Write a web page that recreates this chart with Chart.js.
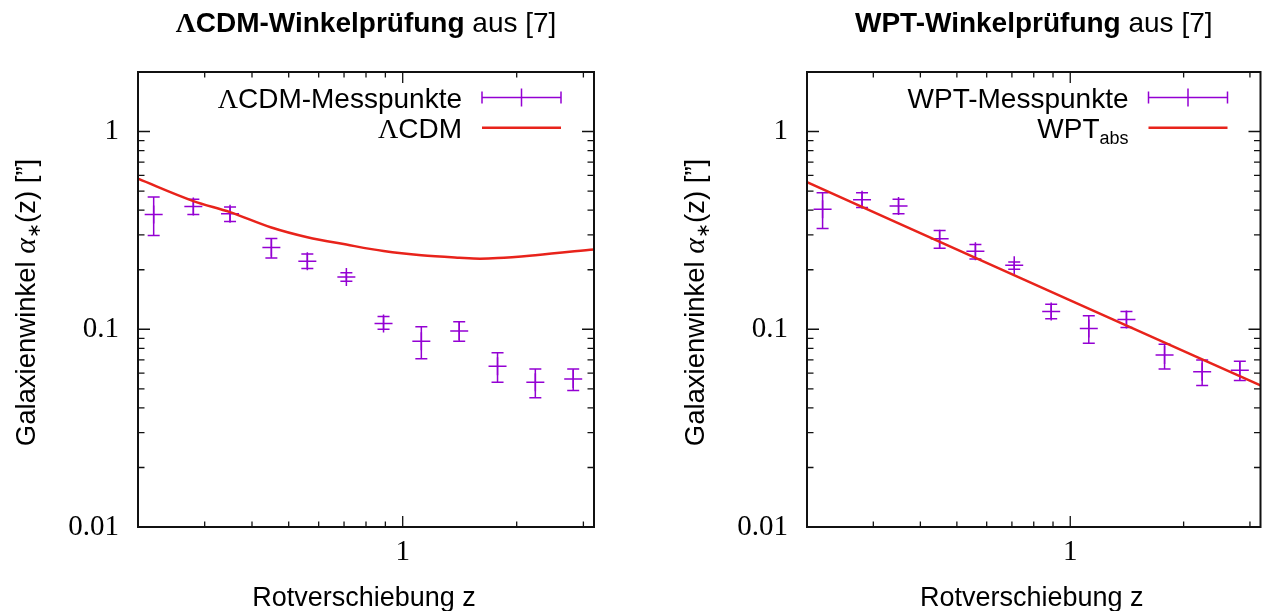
<!DOCTYPE html>
<html><head><meta charset="utf-8">
<script src="https://cdn.jsdelivr.net/npm/chart.js@4.4.0/dist/chart.umd.min.js"></script>
<style>
html,body{margin:0;padding:0;background:#fff;}
#wrap{position:relative;width:1271px;height:611px;overflow:hidden;background:#fff;}
canvas{position:absolute;top:0;}
#c1{left:0;} #c2{left:635px;}
</style></head><body>
<div id="wrap"><canvas id="c1" width="635" height="611"></canvas><canvas id="c2" width="636" height="611"></canvas></div>
<script>
// ---- data ----
const redshift = [0.22, 0.28, 0.35, 0.45, 0.56, 0.71, 0.89, 1.12, 1.41, 1.78, 2.24, 2.82];

const lcdmAngle = [0.380, 0.418, 0.384, 0.259, 0.221, 0.184, 0.107, 0.087, 0.098, 0.065, 0.054, 0.056];
const lcdmUpper = [0.466, 0.455, 0.415, 0.288, 0.240, 0.193, 0.116, 0.103, 0.109, 0.076, 0.063, 0.063];
const lcdmLower = [0.298, 0.381, 0.351, 0.229, 0.203, 0.175, 0.100, 0.071, 0.087, 0.054, 0.045, 0.049];

const wptAngle = [0.405, 0.452, 0.420, 0.287, 0.248, 0.2105, 0.123, 0.101, 0.112, 0.074, 0.061, 0.062];
const wptUpper = [0.490, 0.490, 0.455, 0.316, 0.268, 0.219, 0.134, 0.117, 0.123, 0.084, 0.070, 0.069];
const wptLower = [0.323, 0.413, 0.384, 0.257, 0.2265, 0.201, 0.113, 0.085, 0.102, 0.063, 0.052, 0.055];

const lcdmCurveZ     = [0.2, 0.28, 0.35, 0.45, 0.56, 0.71, 0.89, 1.12, 1.41, 1.6, 1.78, 2.24, 3.2];
const lcdmCurveAngle = [0.577, 0.445, 0.391, 0.327, 0.292, 0.268, 0.2486, 0.2365, 0.230, 0.2276, 0.229, 0.237, 0.2535];

const wptCurveZ     = [0.2, 1, 3.2];
const wptCurveAngle = [0.555, 0.14, 0.052];

const xTickValues = [0.3, 0.4, 0.5, 0.6, 0.7, 0.8, 0.9, 1, 2, 3];
const xMajorTicks = [1];
const xTickLabels = ['1'];
const yTickValues = [0.02,0.03,0.04,0.05,0.06,0.07,0.08,0.09,0.1,0.2,0.3,0.4,0.5,0.6,0.7,0.8,0.9,1];
const yMajorTicks = [0.01, 0.1, 1];
const yTickLabels = ['0.01', '0.1', '1'];

// ---- styling ----
const PURPLE = '#9400d3';
const RED = '#e8231b';
const SANS = 'Liberation Sans, Arial, sans-serif';
const SERIF = 'Liberation Serif, Times New Roman, serif';

function pts(xs, ys){ return xs.map((x,i)=>({x:x, y:ys[i]})); }

function drawRuns(ctx, runs, x, y, align){
  let w = 0;
  runs.forEach(r=>{ ctx.font = r[1]; w += ctx.measureText(r[0]).width; });
  let cx = align === 'center' ? x - w/2 : (align === 'right' ? x - w : x);
  runs.forEach(r=>{ ctx.font = r[1]; ctx.fillText(r[0], cx, y + (r[2]||0)); cx += ctx.measureText(r[0]).width; });
}

function makeDecor(cfg){
  return {
    id: 'decor',
    beforeDatasetsDraw(chart){
      const ctx = chart.ctx, xs = chart.scales.x, ys = chart.scales.y, a = chart.chartArea;
      ctx.save();
      ctx.beginPath(); ctx.rect(a.left, a.top, a.right-a.left, a.bottom-a.top); ctx.clip();
      ctx.strokeStyle = PURPLE; ctx.lineWidth = 1.5;
      redshift.forEach((z,i)=>{
        const px = xs.getPixelForValue(z);
        const t = ys.getPixelForValue(cfg.upper[i]);
        const b = ys.getPixelForValue(cfg.lower[i]);
        ctx.beginPath();
        ctx.moveTo(px, t); ctx.lineTo(px, b);
        ctx.moveTo(px-6, t); ctx.lineTo(px+6, t);
        ctx.moveTo(px-6, b); ctx.lineTo(px+6, b);
        ctx.stroke();
      });
      ctx.restore();
    },
    afterDraw(chart){
      const ctx = chart.ctx, xs = chart.scales.x, ys = chart.scales.y, a = chart.chartArea;
      ctx.save();
      // ticks (inward, mirrored)
      ctx.strokeStyle = '#111'; ctx.lineWidth = 1.3;
      ctx.beginPath();
      xTickValues.forEach(v=>{
        const px = xs.getPixelForValue(v);
        const L = xMajorTicks.includes(v) ? 11 : 5.5;
        ctx.moveTo(px, a.bottom); ctx.lineTo(px, a.bottom - L);
        ctx.moveTo(px, a.top); ctx.lineTo(px, a.top + L);
      });
      yTickValues.forEach(v=>{
        const py = ys.getPixelForValue(v);
        const L = yMajorTicks.includes(v) ? 12 : 6.5;
        ctx.moveTo(a.left, py); ctx.lineTo(a.left + L, py);
        ctx.moveTo(a.right, py); ctx.lineTo(a.right - L, py);
      });
      ctx.stroke();
      // frame
      ctx.lineWidth = 2; ctx.strokeStyle = '#111';
      ctx.strokeRect(a.left, a.top, a.right-a.left, a.bottom-a.top);

      ctx.fillStyle = '#000'; ctx.textBaseline = 'alphabetic'; ctx.textAlign = 'left';
      const cxp = (a.left + a.right)/2;
      // title
      drawRuns(ctx, cfg.title, cxp, 32, 'center');
      // x axis title
      drawRuns(ctx, [['Rotverschiebung z', '27px ' + SANS]], cxp - 2, 606, 'center');
      // y axis title
      ctx.save();
      ctx.translate(a.left - 103, (a.top + a.bottom)/2 + 3);
      ctx.rotate(-Math.PI/2);
      drawRuns(ctx, [
        ['Galaxienwinkel ', '27.5px ' + SANS],
        ['\u03b1', 'italic 30px ' + SERIF],
        ['\u2217', '18px ' + SERIF, 5],
        ['(z) [\u201d]', '27.5px ' + SANS]
      ], 0, 0, 'center');
      ctx.restore();
      // legend
      const textR = a.right - 132, s0 = a.right - 112, s1 = a.right - 33;
      const r1 = a.top + 25.5, r2 = a.top + 55.7;
      drawRuns(ctx, cfg.legend1, textR, r1 + 10, 'right');
      drawRuns(ctx, cfg.legend2, textR, r2 + 10, 'right');
      ctx.strokeStyle = PURPLE; ctx.lineWidth = 1.5;
      ctx.beginPath();
      ctx.moveTo(s0, r1); ctx.lineTo(s1, r1);
      ctx.moveTo(s0, r1-6); ctx.lineTo(s0, r1+6);
      ctx.moveTo(s1, r1-6); ctx.lineTo(s1, r1+6);
      const sm = (s0+s1)/2;
      ctx.moveTo(sm, r1-9); ctx.lineTo(sm, r1+9);
      ctx.stroke();
      ctx.strokeStyle = RED; ctx.lineWidth = 2.5;
      ctx.beginPath(); ctx.moveTo(s0, r2); ctx.lineTo(s1, r2); ctx.stroke();
      ctx.restore();
    }
  };
}

function makeChart(id, cfg){
  return new Chart(document.getElementById(id), {
    type: 'scatter',
    data: { datasets: [
      { label: cfg.pointLabel, data: pts(redshift, cfg.angle), pointStyle: 'cross', pointRadius: 9, pointHoverRadius: 9,
        borderColor: PURPLE, backgroundColor: PURPLE, borderWidth: 1.5, showLine: false, order: 1 },
      { label: cfg.curveLabel, data: pts(cfg.curveZ, cfg.curveAngle), showLine: true, pointRadius: 0,
        borderColor: RED, backgroundColor: RED, borderWidth: 2.5, cubicInterpolationMode: 'monotone', fill: false, order: 0 }
    ]},
    options: {
      responsive: false, animation: false, events: [],
      layout: { padding: { left: cfg.padLeft, right: cfg.padRight, top: 72, bottom: 44 } },
      plugins: { legend: { display: false }, tooltip: { enabled: false }, title: { display: false } },
      scales: {
        x: { type: 'logarithmic', min: 0.2, max: 3.2,
             grid: { display: false, drawTicks: false }, border: { display: false },
             afterBuildTicks: s => { s.ticks = xTickValues.map(v => ({ value: v })); },
             afterFit: s => { s.height = 40; },
             ticks: { autoSkip: false, maxRotation: 0, padding: 8, color: '#000',
                      font: { family: SERIF, size: 29 },
                      callback: v => { const i = xMajorTicks.indexOf(v); return i >= 0 ? xTickLabels[i] : ''; } } },
        y: { type: 'logarithmic', min: 0.01, max: 2,
             grid: { display: false, drawTicks: false }, border: { display: false },
             afterBuildTicks: s => { s.ticks = [0.01].concat(yTickValues).map(v => ({ value: v })); },
             afterFit: s => { s.width = 80; },
             ticks: { autoSkip: false, padding: 19, color: '#000',
                      font: { family: SERIF, size: 29 },
                      callback: v => { const i = yMajorTicks.indexOf(v); return i >= 0 ? yTickLabels[i] : ''; } } }
      }
    },
    plugins: [makeDecor(cfg)]
  });
}

makeChart('c1', {
  angle: lcdmAngle, upper: lcdmUpper, lower: lcdmLower,
  curveZ: lcdmCurveZ, curveAngle: lcdmCurveAngle,
  pointLabel: '\u039bCDM-Messpunkte', curveLabel: '\u039bCDM',
  padLeft: 58, padRight: 41,
  title: [['\u039b', 'bold 28px ' + SERIF], ['CDM-Winkelpr\u00fcfung', 'bold 28px ' + SANS], [' aus [7]', '28px ' + SANS]],
  legend1: [['\u039b', '28px ' + SERIF], ['CDM-Messpunkte', '28px ' + SANS]],
  legend2: [['\u039b', '28px ' + SERIF], ['CDM', '28px ' + SANS]]
});
makeChart('c2', {
  angle: wptAngle, upper: wptUpper, lower: wptLower,
  curveZ: wptCurveZ, curveAngle: wptCurveAngle,
  pointLabel: 'WPT-Messpunkte', curveLabel: 'WPT_abs',
  padLeft: 92, padRight: 8,
  title: [['WPT-Winkelpr\u00fcfung', 'bold 28px ' + SANS], [' aus [7]', '28px ' + SANS]],
  legend1: [['WPT-Messpunkte', '28px ' + SANS]],
  legend2: [['WPT', '28px ' + SANS], ['abs', '18px ' + SANS, 6]]
});
</script>
</body></html>
